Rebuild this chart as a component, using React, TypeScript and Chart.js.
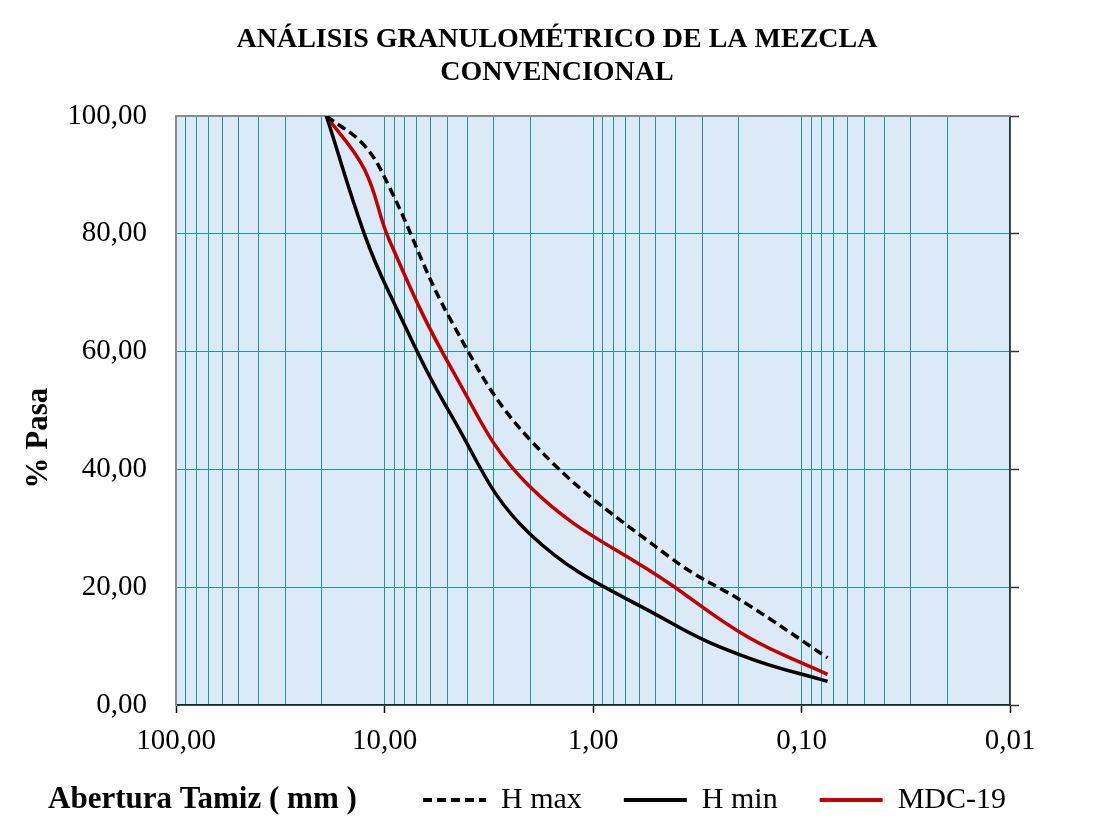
import React, { useEffect, useRef } from 'react';
import { Chart, registerables } from 'chart.js';

Chart.register(...registerables);

// ---- Text ----
const TITLE_LINES = ['ANÁLISIS GRANULOMÉTRICO DE LA MEZCLA', 'CONVENCIONAL'];
const X_TITLE = 'Abertura Tamiz ( mm )';
const Y_TITLE = '% Pasa';

// ---- Data ----
const sieveSizes = [19, 12.5, 9.5, 4.75, 2.0, 0.425, 0.18, 0.075];
const hMax = [100, 95, 88, 65, 45, 25, 17, 8];
const hMin = [100, 80, 70, 49, 29, 14, 8, 4];
const mdc19 = [100, 91, 79, 57, 37, 20.5, 11.5, 5.2];

// ---- Axis ticks ----
const xGridValues = [
  0.01, 0.02, 0.03, 0.04, 0.05, 0.06, 0.07, 0.08, 0.09,
  0.1, 0.2, 0.3, 0.4, 0.5, 0.6, 0.7, 0.8, 0.9,
  1, 2, 3, 4, 5, 6, 7, 8, 9,
  10, 20, 30, 40, 50, 60, 70, 80, 90,
  100,
];
const xDecades = [100, 10, 1, 0.1, 0.01];
const xDecadeLabels = ['100,00', '10,00', '1,00', '0,10', '0,01'];
const yTickValues = [0, 20, 40, 60, 80, 100];

const SERIF = '"Liberation Serif", "Times New Roman", serif';
const GRID_COLOR = '#1f9696';
const PLOT_BG = '#dce9f6';

const decadeIndex = (v: number) => xDecades.findIndex((d) => Math.abs(d - v) / d < 1e-6);

const decorPlugin = {
  id: 'decor',
  beforeDraw(chart: any) {
    const { ctx, chartArea: a } = chart;
    ctx.save();
    ctx.fillStyle = PLOT_BG;
    ctx.fillRect(a.left, a.top, a.right - a.left, a.bottom - a.top);
    ctx.restore();
  },
  beforeDatasetsDraw(chart: any) {
    const { ctx, chartArea: a } = chart;
    ctx.save();
    ctx.strokeStyle = '#8c8c8c';
    ctx.lineWidth = 2;
    ctx.beginPath();
    ctx.moveTo(a.left, a.top);
    ctx.lineTo(a.right, a.top);
    ctx.stroke();
    ctx.restore();
  },
  afterDraw(chart: any) {
    const { ctx } = chart;
    ctx.save();
    ctx.fillStyle = '#000';
    ctx.font = `bold 31px ${SERIF}`;
    ctx.textAlign = 'left';
    ctx.textBaseline = 'middle';
    ctx.fillText(X_TITLE, 48, 800);
    ctx.font = `bold 31px ${SERIF}`;
    ctx.translate(39, 438);
    ctx.rotate(-Math.PI / 2);
    ctx.textAlign = 'center';
    ctx.fillText(Y_TITLE, 0, 0);
    ctx.restore();
  },
};

export default function App() {
  const canvasRef = useRef<HTMLCanvasElement | null>(null);

  useEffect(() => {
    document.body.style.margin = '0';
    const canvas = canvasRef.current;
    if (!canvas) return;

    const toPoints = (ys: number[]) => sieveSizes.map((x, i) => ({ x, y: ys[i] }));

    const chart = new Chart(canvas, {
      type: 'line',
      data: {
        datasets: [
          {
            label: 'H max',
            data: toPoints(hMax),
            borderColor: '#000000',
            backgroundColor: '#000000',
            borderWidth: 3.5,
            borderDash: [9, 5],
            pointRadius: 0,
            tension: 0.4,
            fill: false,
          },
          {
            label: 'H min',
            data: toPoints(hMin),
            borderColor: '#000000',
            backgroundColor: '#000000',
            borderWidth: 3.5,
            pointRadius: 0,
            tension: 0.4,
            fill: false,
          },
          {
            label: 'MDC-19',
            data: toPoints(mdc19),
            borderColor: '#c00000',
            backgroundColor: '#c00000',
            borderWidth: 3.5,
            pointRadius: 0,
            tension: 0.4,
            fill: false,
          },
        ],
      },
      options: {
        animation: false,
        responsive: true,
        maintainAspectRatio: false,
        layout: { padding: { left: 66, right: 48, top: 0, bottom: -7 } },
        plugins: {
          title: {
            display: true,
            text: TITLE_LINES,
            color: '#000',
            font: { family: SERIF, size: 28, weight: 'bold', lineHeight: 1.15 },
            padding: { top: 24, bottom: 27.6 },
          },
          legend: {
            display: true,
            position: 'bottom',
            align: 'end',
            labels: {
              color: '#000',
              font: { family: SERIF, size: 30 },
              usePointStyle: true,
              pointStyle: 'line',
              pointStyleWidth: 63,
              padding: 42,
              generateLabels: (chart: any) => {
                const items = Chart.defaults.plugins.legend.labels.generateLabels(chart);
                return items.map((item: any) => {
                  const ds = chart.data.datasets[item.datasetIndex];
                  return {
                    ...item,
                    strokeStyle: ds.borderColor,
                    lineDash: ds.borderDash || [],
                    lineWidth: 4,
                    lineCap: 'butt',
                    pointStyle: 'line',
                  };
                });
              },
            },
          },
          tooltip: { enabled: false },
        },
        scales: {
          x: {
            type: 'logarithmic',
            reverse: true,
            min: 0.01,
            max: 100,
            afterBuildTicks: (scale: any) => {
              scale.ticks = xGridValues.map((v) => ({ value: v }));
            },
            afterFit: (scale: any) => {
              scale.height = 38;
            },
            ticks: {
              autoSkip: false,
              maxRotation: 0,
              minRotation: 0,
              mirror: true,
              color: '#000',
              padding: -54,
              font: { family: SERIF, size: 29 },
              callback: (value: any) => {
                const i = decadeIndex(Number(value));
                return i >= 0 ? xDecadeLabels[i] : '';
              },
            },
            grid: {
              color: GRID_COLOR,
              lineWidth: 1,
              tickLength: 8,
              tickWidth: 1.5,
              tickColor: (ctx: any) =>
                ctx.tick && decadeIndex(ctx.tick.value) >= 0 ? '#000' : 'rgba(0,0,0,0)',
            },
            border: { display: true, color: '#222', width: 1.5 },
          },
          y: {
            type: 'linear',
            position: 'left',
            min: 0,
            max: 100,
            afterBuildTicks: (scale: any) => {
              scale.ticks = yTickValues.map((v) => ({ value: v }));
            },
            afterFit: (scale: any) => {
              scale.width = 110;
            },
            ticks: {
              color: '#000',
              padding: 29,
              font: { family: SERIF, size: 29 },
              callback: (value: any) => Number(value).toFixed(2).replace('.', ','),
            },
            grid: { color: GRID_COLOR, lineWidth: 1, drawTicks: false },
            border: { display: true, color: '#8c8c8c', width: 2 },
          },
          y2: {
            type: 'linear',
            position: 'right',
            min: 0,
            max: 100,
            afterBuildTicks: (scale: any) => {
              scale.ticks = yTickValues.map((v) => ({ value: v }));
            },
            afterFit: (scale: any) => {
              scale.width = 38;
            },
            ticks: { display: false },
            grid: {
              drawOnChartArea: false,
              drawTicks: true,
              tickLength: 9,
              tickColor: '#333',
              tickWidth: 1.5,
            },
            border: { display: true, color: '#333', width: 1.5 },
          },
        },
      },
      plugins: [decorPlugin],
    } as any);

    return () => chart.destroy();
  }, []);

  return (
    <div style={{ position: 'relative', width: 1096, height: 818 }}>
      <canvas ref={canvasRef} style={{ display: 'block' }} />
    </div>
  );
}
